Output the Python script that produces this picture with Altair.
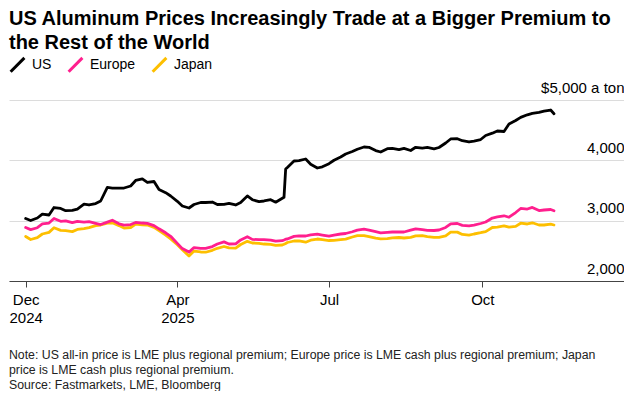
import altair as alt
import pandas as pd

dates = [
    "2024-12-31", "2025-01-03", "2025-01-07", "2025-01-10", "2025-01-14", "2025-01-17", "2025-01-21",
    "2025-01-24", "2025-01-28", "2025-01-31", "2025-02-04", "2025-02-07", "2025-02-11", "2025-02-14",
    "2025-02-18", "2025-02-21", "2025-02-25", "2025-02-28", "2025-03-04", "2025-03-07", "2025-03-11",
    "2025-03-14", "2025-03-18", "2025-03-21", "2025-03-25", "2025-03-28", "2025-04-01", "2025-04-04",
    "2025-04-08", "2025-04-11", "2025-04-15", "2025-04-18", "2025-04-22", "2025-04-25", "2025-04-29",
    "2025-05-02", "2025-05-06", "2025-05-09", "2025-05-13", "2025-05-16", "2025-05-20", "2025-05-23",
    "2025-05-27", "2025-05-30", "2025-06-03", "2025-06-04", "2025-06-05", "2025-06-06", "2025-06-10",
    "2025-06-13", "2025-06-17", "2025-06-20", "2025-06-24", "2025-06-27", "2025-07-01", "2025-07-04",
    "2025-07-08", "2025-07-11", "2025-07-15", "2025-07-18", "2025-07-22", "2025-07-25", "2025-07-29",
    "2025-08-01", "2025-08-05", "2025-08-08", "2025-08-12", "2025-08-15", "2025-08-19", "2025-08-22",
    "2025-08-26", "2025-08-29", "2025-09-02", "2025-09-05", "2025-09-09", "2025-09-12", "2025-09-16",
    "2025-09-19", "2025-09-23", "2025-09-26", "2025-09-30", "2025-10-03", "2025-10-07", "2025-10-10",
    "2025-10-14", "2025-10-17", "2025-10-21", "2025-10-24", "2025-10-28", "2025-10-31", "2025-11-04",
    "2025-11-07", "2025-11-11", "2025-11-13",
]

us = [
    3036, 3003, 3044, 3110, 3094, 3218, 3202, 3165, 3169, 3190,
    3273, 3260, 3284, 3326, 3550, 3541, 3538, 3541, 3575, 3666,
    3691, 3633, 3649, 3515, 3464, 3409, 3321, 3243, 3210, 3268,
    3301, 3301, 3309, 3268, 3271, 3288, 3260, 3301, 3409, 3347,
    3316, 3326, 3347, 3306, 3371, 3387, 3856, 3881, 3989, 3994,
    4022, 3934, 3873, 3893, 3944, 4001, 4055, 4105, 4146, 4183,
    4221, 4216, 4161, 4138, 4194, 4199, 4178, 4198, 4163, 4216,
    4204, 4213, 4191, 4213, 4287, 4354, 4359, 4325, 4304, 4320,
    4345, 4412, 4450, 4486, 4478, 4602, 4660, 4712, 4755, 4778,
    4794, 4814, 4834, 4773,
]

europe = [
    2887, 2852, 2883, 2945, 2961, 3036, 2990, 2998, 2966, 2988,
    2975, 2983, 2956, 2936, 2976, 3008, 2948, 2925, 2936, 2971,
    2961, 2956, 2918, 2865, 2799, 2741, 2623, 2537, 2479, 2554,
    2542, 2542, 2570, 2613, 2648, 2613, 2615, 2680, 2733, 2690,
    2685, 2685, 2678, 2661, 2668, 2680, 2693, 2696, 2739, 2749,
    2746, 2766, 2776, 2762, 2743, 2761, 2779, 2787, 2816, 2844,
    2859, 2845, 2819, 2799, 2806, 2812, 2812, 2812, 2842, 2865,
    2852, 2840, 2837, 2845, 2887, 2948, 2953, 2923, 2915, 2928,
    2953, 2978, 3044, 3062, 3081, 3057, 3135, 3202, 3193, 3220,
    3167, 3177, 3185, 3164,
]

japan = [
    2738, 2688, 2718, 2779, 2806, 2882, 2839, 2834, 2819, 2854,
    2868, 2885, 2917, 2928, 2960, 2965, 2918, 2878, 2887, 2943,
    2932, 2928, 2890, 2835, 2762, 2699, 2602, 2519, 2414, 2497,
    2481, 2477, 2509, 2542, 2572, 2549, 2544, 2605, 2658, 2630,
    2623, 2613, 2608, 2592, 2597, 2608, 2622, 2638, 2663, 2666,
    2643, 2676, 2696, 2685, 2671, 2675, 2686, 2693, 2729, 2751,
    2752, 2736, 2709, 2699, 2704, 2714, 2721, 2713, 2724, 2749,
    2751, 2736, 2724, 2724, 2749, 2809, 2810, 2772, 2761, 2779,
    2800, 2819, 2887, 2893, 2915, 2892, 2905, 2958, 2945, 2965,
    2928, 2928, 2942, 2928,
]

series_names = ["US", "Europe", "Japan"]
series_colors = ["#000000", "#ff1f8e", "#fdbf00"]
draw_order = ["Japan", "Europe", "US"]

y_ticks = [2000, 3000, 4000, 5000]
x_tick_dates = [(2024, 12, 31), (2025, 4, 1), (2025, 7, 1), (2025, 10, 1)]

title_lines = [
    "US Aluminum Prices Increasingly Trade at a Bigger Premium to",
    "the Rest of the World",
]
note_lines = [
    "Note: US all-in price is LME plus regional premium; Europe price is LME cash plus regional premium; Japan",
    "price is LME cash plus regional premium.",
    "Source: Fastmarkets, LME, Bloomberg",
]

series_values = {"US": us, "Europe": europe, "Japan": japan}
rows = []
for name in draw_order:
    for d, v in zip(dates, series_values[name]):
        rows.append({"date": d, "price": v, "series": name})
df = pd.DataFrame(rows)

FONT = "Liberation Sans"

x_enc = alt.X(
    "date:T",
    scale=alt.Scale(
        type="utc",
        domain=[
            alt.DateTime(year=2024, month=12, date=21, utc=True),
            alt.DateTime(year=2025, month=12, date=25, utc=True),
        ],
        nice=False,
    ),
    axis=alt.Axis(
        values=[alt.DateTime(year=y, month=m, date=d, utc=True) for (y, m, d) in x_tick_dates],
        labelExpr="(utcmonth(datum.value) == 11 || utcmonth(datum.value) == 3) ? [utcFormat(datum.value, '%b'), utcFormat(datum.value, '%Y')] : utcFormat(datum.value, '%b')",
        title=None,
        grid=False,
        domainColor="#444444",
        tickColor="#444444",
        tickSize=6,
        labelFontSize=15,
        labelFont=FONT,
        labelColor="#000000",
        labelPadding=5,
        labelLineHeight=18,
        labelFlush=False,
        labelOverlap=False,
        labelAlign="center",
        labelBaseline="top",
    ),
)

y_enc = alt.Y(
    "price:Q",
    scale=alt.Scale(domain=[2000, 5000], nice=False, zero=False),
    axis=alt.Axis(
        orient="right",
        values=y_ticks,
        labelExpr="datum.value == 5000 ? '$5,000 a ton' : format(datum.value, ',')",
        title=None,
        domain=False,
        ticks=False,
        grid=True,
        gridColor="#dcdcdc",
        gridWidth=1,
        labelAlign="right",
        labelBaseline="alphabetic",
        labelOffset=-8,
        labelPadding=0,
        labelFontSize=15,
        labelFont=FONT,
        labelColor="#000000",
        labelFlush=False,
        labelOverlap=False,
    ),
)

color_enc = alt.Color(
    "series:N",
    scale=alt.Scale(domain=series_names, range=series_colors),
    legend=alt.Legend(
        title=None,
        orient="none",
        legendX=0,
        legendY=-44,
        direction="horizontal",
        symbolType="M-1,1L1,-1",
        symbolSize=190,
        symbolStrokeWidth=3,
        labelFontSize=14,
        labelFont=FONT,
        labelColor="#000000",
        labelOffset=6,
        columnPadding=10,
    ),
)

base = alt.Chart(df).mark_line(strokeWidth=2.8, strokeJoin="round", strokeCap="round").encode(
    x=x_enc, y=y_enc, color=color_enc
)
layers = [base.transform_filter(alt.datum.series == s) for s in draw_order]

inner = alt.layer(*layers).properties(
    width=615,
    height=181,
    title=alt.TitleParams(
        note_lines,
        orient="bottom",
        anchor="start",
        fontSize=12.3,
        font=FONT,
        fontWeight="normal",
        color="#222222",
        lineHeight=14.8,
        offset=24,
    ),
)

chart = (
    alt.vconcat(inner)
    .properties(
        title=alt.TitleParams(
            title_lines,
            anchor="start",
            fontSize=20,
            font=FONT,
            fontWeight="bold",
            color="#000000",
            lineHeight=24.5,
            offset=3,
        ),
        padding={"left": 0, "top": 0, "right": 0, "bottom": 0},
    )
    .configure_view(stroke=None)
    .configure_concat(spacing=0)
)

chart.save("out.html", embed_options={"renderer": "svg", "actions": False})
